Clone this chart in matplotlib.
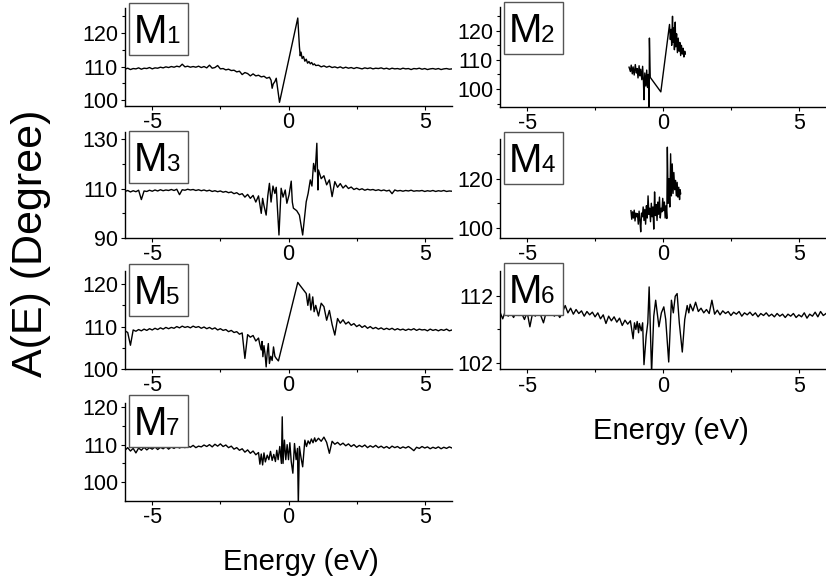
import matplotlib
matplotlib.use('Agg')
import matplotlib.pyplot as plt
from matplotlib.patches import Rectangle
from matplotlib.ticker import FixedLocator

plt.rcParams['font.family'] = ['Liberation Sans', 'DejaVu Sans']
plt.rcParams['axes.unicode_minus'] = False

W, H = 826, 584

# ---------------- data ----------------
E_left = [-6.0, -5.9, -5.8, -5.7, -5.6, -5.5, -5.4, -5.3, -5.2, -5.1,
          -5.0, -4.9, -4.8, -4.7, -4.6, -4.5, -4.4, -4.3, -4.2, -4.1,
          -4.0, -3.9, -3.8, -3.7, -3.6, -3.5, -3.4, -3.3, -3.2, -3.1,
          -3.0, -2.9, -2.8, -2.7, -2.6, -2.5, -2.4, -2.3, -2.2, -2.1,
          -2.0, -1.9, -1.8, -1.7, -1.6, -1.5, -1.4, -1.3, -1.2, -1.1]
E_right = [1.1, 1.2, 1.3, 1.4, 1.5, 1.6, 1.7, 1.8, 1.9, 2.0,
           2.1, 2.2, 2.3, 2.4, 2.5, 2.6, 2.7, 2.8, 2.9, 3.0,
           3.1, 3.2, 3.3, 3.4, 3.5, 3.6, 3.7, 3.8, 3.9, 4.0,
           4.1, 4.2, 4.3, 4.4, 4.5, 4.6, 4.7, 4.8, 4.9, 5.0,
           5.1, 5.2, 5.3, 5.4, 5.5, 5.6, 5.7, 5.8, 5.9, 6.0]

# M1
M1_left = [109.2, 109.5, 109.1, 109.4, 109.3, 109.6, 109.2, 109.5, 109.4, 109.7,
           109.3, 109.6, 109.5, 109.8, 109.6, 109.9, 109.7, 110.0, 109.8, 110.1,
           109.9, 110.7, 109.9, 110.1, 109.8, 110.0, 109.8, 110.1, 109.7, 110.0,
           109.6, 110.4, 109.5, 109.7, 110.3, 109.3, 109.4, 109.0, 109.2, 108.8,
           108.9, 108.4, 108.6, 107.6, 108.2, 107.9, 107.2, 107.8, 107.2, 107.4]
M1_mid_E = [-1.0, -0.9, -0.8, -0.7, -0.64, -0.6, -0.56, -0.5, -0.45, -0.33, 0.34, 0.40, 0.43,
            0.46, 0.5, 0.55, 0.6, 0.65, 0.7, 0.75, 0.8, 0.85, 0.9, 0.95, 1.0]
M1_mid_A = [106.9, 107.1, 106.5, 106.8, 105.9, 103.5, 104.8, 105.5, 106.5, 99.3, 124.5, 116.0, 113.2,
            114.3, 112.4, 113.0, 111.6, 112.2, 111.0, 111.5, 110.8, 111.2, 110.5, 110.8, 110.3]
M1_right = [110.4, 109.9, 110.2, 109.8, 110.1, 109.7, 109.9, 109.6, 109.9, 109.5,
            109.8, 109.5, 109.7, 109.4, 109.7, 109.5, 109.3, 109.6, 109.4, 109.6,
            109.3, 109.5, 109.4, 109.6, 109.3, 109.5, 109.2, 109.5, 109.3, 109.4,
            109.2, 109.5, 109.3, 109.4, 109.1, 109.4, 109.3, 109.5, 109.2, 109.4,
            109.1, 109.3, 109.4, 109.2, 109.4, 109.1, 109.3, 109.4, 109.2, 109.3]

# M2
M2_E = [-1.25, -1.2, -1.17, -1.13, -1.1, -1.06, -1.02, -0.98, -0.95, -0.92, -0.88, -0.85,
        -0.82, -0.78, -0.75, -0.72, -0.7, -0.67, -0.63, -0.6, -0.57, -0.54, -0.51, -0.5,
        -0.47, -0.08, 0.24, 0.27, 0.3, 0.32, 0.35, 0.37, 0.4, 0.42, 0.45, 0.47, 0.5, 0.53,
        0.56, 0.59, 0.62, 0.65, 0.68, 0.71, 0.74, 0.77, 0.8, 0.82]
M2_A = [107.5, 106.0, 108.2, 105.2, 107.6, 104.8, 108.4, 105.5, 107.0, 103.8, 108.0, 104.5,
        106.8, 103.2, 107.8, 102.5, 96.3, 105.5, 101.0, 106.5, 100.5, 105.0, 93.0, 117.5,
        104.0, 99.0, 122.2, 117.0, 120.5, 115.0, 125.0, 116.0, 121.0, 113.5, 123.0, 114.5, 119.0, 112.5,
        117.5, 113.0, 116.0, 111.5, 115.0, 112.0, 114.0, 111.0, 113.0, 112.0]

# M3
M3_left = [108.8, 109.2, 108.6, 109.1, 108.7, 109.3, 105.5, 109.0, 108.8, 109.3,
           108.9, 109.4, 109.0, 109.5, 109.1, 109.4, 109.2, 109.6, 109.2, 109.7,
           107.5, 109.5, 109.3, 109.7, 109.4, 109.6, 109.2, 109.5, 109.1, 109.4,
           109.0, 109.3, 108.8, 109.1, 108.7, 109.0, 108.5, 108.8, 108.3, 108.6,
           107.9, 108.3, 107.5, 107.9, 106.5, 107.6, 106.0, 107.2, 104.5, 107.0]
M3_mid_E = [-1.0, -0.95, -0.9, -0.82, -0.76, -0.7, -0.64, -0.57, -0.5, -0.45, -0.35, -0.27,
            -0.2, -0.16, -0.12, -0.06, 0.02, 0.1, 0.14, 0.18, 0.3, 0.4, 0.52, 0.65, 0.72,
            0.8, 0.86, 0.92, 0.98, 1.04, 1.08]
M3_mid_A = [99.9, 106.0, 103.0, 99.2, 107.0, 112.1, 104.5, 111.0, 108.0, 110.5, 91.1, 110.1,
            106.5, 108.0, 109.4, 104.0, 107.4, 113.0, 104.5, 102.0, 101.0, 99.2, 91.1, 104.6, 108.0,
            113.5, 111.0, 120.2, 116.8, 128.4, 109.4]
M3_right = [117.5, 114.0, 115.2, 111.5, 113.5, 106.7, 112.8, 110.5, 112.0, 110.2,
            111.3, 110.0, 110.6, 109.6, 110.1, 109.5, 109.9, 109.3, 109.7, 109.4,
            109.6, 109.2, 109.5, 109.1, 109.4, 109.0, 109.3, 107.9, 109.4, 109.0,
            109.2, 108.9, 109.2, 109.0, 109.3, 108.9, 109.1, 109.0, 109.2, 108.8,
            109.1, 108.9, 109.2, 108.8, 109.1, 108.9, 109.2, 108.8, 109.0, 108.9]

# M4
M4_E = [-1.18, -1.15, -1.12, -1.09, -1.06, -1.03, -1.0, -0.97, -0.94, -0.91, -0.88, -0.85,
        -0.82, -0.79, -0.76, -0.73, -0.7, -0.67, -0.64, -0.61, -0.58, -0.55, -0.52, -0.49,
        -0.46, -0.43, -0.4, -0.37, -0.34, -0.31, -0.28, -0.25, -0.22, -0.19, -0.16, -0.13,
        -0.1, -0.07, -0.04, -0.01, 0.02, 0.05, 0.08, 0.11, 0.14, 0.16, 0.19, 0.22, 0.25,
        0.28, 0.31, 0.34, 0.37, 0.4, 0.43, 0.46, 0.49, 0.52, 0.55, 0.58, 0.61, 0.63, 0.65]
M4_A = [107.0, 103.5, 106.5, 104.0, 107.2, 102.8, 106.0, 104.5, 105.8, 101.5,
        106.8, 103.0, 98.4, 106.0, 104.5, 108.5, 103.0, 107.5, 101.5, 109.0,
        104.0, 113.0, 105.5, 108.0, 102.5, 110.0, 104.5, 108.5, 99.5, 114.6,
        105.0, 109.5, 103.0, 110.5, 105.5, 112.5, 104.0, 108.0, 106.5, 112.0,
        107.0, 110.5, 104.0, 109.0, 103.8, 132.8, 110.0, 120.0, 108.5, 130.1,
        113.0, 126.0, 114.0, 122.5, 115.5, 119.3, 113.0, 118.5, 112.5, 116.5,
        111.5, 115.5, 113.9]

# M5
M5_left = [109.0, 108.6, 105.6, 109.2, 108.9, 109.3, 109.0, 109.4, 109.1, 109.5,
           109.2, 109.6, 109.3, 109.7, 109.4, 109.8, 109.5, 109.8, 109.6, 110.0,
           109.7, 110.1, 109.8, 110.0, 109.7, 110.1, 109.8, 110.0, 109.6, 109.9,
           109.5, 109.8, 109.4, 109.7, 109.2, 109.5, 109.1, 109.3, 108.8, 109.1,
           108.6, 108.8, 108.2, 108.5, 102.5, 108.1, 107.5, 107.9, 106.6, 107.3]
M5_mid_E = [-1.06, -1.0, -0.97, -0.94, -0.9, -0.86, -0.82, -0.78, -0.74, -0.7, -0.65, -0.6,
            -0.55, -0.5, -0.45, -0.37, 0.34, 0.65, 0.71, 0.77, 0.82, 0.89, 0.94, 1.0]
M5_mid_A = [106.0, 104.5, 106.5, 102.9, 105.5, 103.5, 100.5, 104.0, 106.0, 101.3, 103.0, 102.0,
            105.2, 103.0, 102.5, 101.9, 120.4, 117.8, 115.0, 117.7, 113.9, 117.0, 113.5, 115.0]
M5_right = [112.5, 115.5, 114.7, 111.5, 113.8, 110.5, 108.0, 111.9, 110.8, 111.6,
            110.6, 111.1, 110.3, 110.7, 110.0, 110.4, 109.8, 110.2, 109.6, 110.0,
            109.5, 109.8, 109.4, 109.7, 109.3, 109.6, 109.3, 109.6, 109.2, 109.5,
            109.2, 109.4, 109.1, 109.4, 109.2, 109.5, 109.1, 109.4, 109.2, 109.3,
            109.0, 109.4, 109.1, 109.3, 109.0, 109.3, 109.1, 109.4, 109.0, 109.2]

# M6
M6_left = [109.6, 108.6, 109.8, 109.0, 109.5, 108.8, 109.7, 109.1, 109.4, 108.5,
           109.6, 107.4, 109.5, 109.0, 109.7, 109.1, 108.0, 109.6, 109.2, 109.8,
           109.0, 109.5, 108.8, 109.6, 110.6, 109.5, 110.2, 109.3, 110.0, 109.4,
           109.8, 109.0, 109.7, 109.2, 109.6, 108.9, 109.5, 108.6, 109.2, 107.9,
           109.0, 108.3, 108.9, 108.1, 108.7, 107.6, 108.4, 107.8, 108.3, 105.6]
M6_mid_E = [-1.05, -1.0, -0.95, -0.9, -0.87, -0.8, -0.75, -0.7, -0.62, -0.56, -0.51, -0.42,
            -0.34, -0.27, -0.15, -0.06, 0.03, 0.1, 0.21, 0.31, 0.38, 0.45, 0.52, 0.6, 0.71,
            0.8, 0.89, 0.95, 1.0]
M6_mid_A = [108.0, 107.0, 108.2, 106.5, 107.9, 106.8, 108.0, 101.7, 106.0, 108.0, 113.4, 100.5,
            109.0, 111.4, 107.4, 109.5, 110.4, 108.5, 102.1, 111.4, 109.5, 112.0, 112.4, 108.0, 103.6,
            108.5, 110.6, 109.5, 110.8]
M6_right = [109.8, 111.1, 109.7, 110.2, 109.5, 110.0, 109.4, 111.4, 109.3, 109.9,
            109.2, 109.8, 109.4, 109.7, 109.1, 109.6, 109.3, 109.7, 109.0, 109.5,
            109.2, 109.6, 109.1, 109.5, 108.9, 109.4, 109.1, 109.5, 109.0, 109.3,
            108.9, 109.4, 109.0, 109.3, 108.8, 109.3, 109.0, 109.4, 108.8, 109.2,
            108.9, 109.5, 108.7, 109.3, 109.0, 109.6, 108.9, 109.7, 109.1, 109.4]

# M7
M7_left = [108.5, 109.2, 108.3, 109.0, 107.8, 109.1, 108.5, 109.3, 108.6, 109.2,
           108.8, 109.4, 108.7, 109.3, 108.9, 109.5, 108.8, 109.4, 109.0, 109.6,
           109.1, 109.5, 109.2, 109.7, 109.3, 109.8, 109.2, 109.6, 109.4, 109.9,
           109.5, 110.0, 109.4, 110.1, 109.6, 110.2, 109.5, 109.9, 109.2, 109.6,
           108.8, 109.2, 108.5, 108.9, 108.0, 108.6, 107.7, 108.3, 107.3, 107.9]
M7_mid_E = [-1.05, -1.0, -0.95, -0.9, -0.85, -0.78, -0.72, -0.66, -0.6, -0.54, -0.48, -0.43,
            -0.38, -0.32, -0.26, -0.23, -0.2, -0.15, -0.1, -0.05, 0.0, 0.05, 0.1, 0.16, 0.22,
            0.28, 0.33, 0.36, 0.4, 0.46, 0.52, 0.6, 0.66, 0.72, 0.78, 0.84, 0.9, 0.96, 1.0]
M7_mid_A = [104.8, 107.5, 104.6, 107.8, 105.4, 107.2, 106.0, 108.2, 105.8, 107.4, 105.5, 108.5,
            106.0, 109.5, 105.0, 117.4, 105.0, 111.2, 106.0, 110.0, 106.0, 110.5, 105.5, 102.4, 110.3,
            106.0, 109.0, 94.0, 109.5, 106.5, 104.1, 111.2, 109.5, 111.0, 110.2, 111.5, 110.5, 111.8, 110.8]
M7_right = [111.7, 110.9, 112.0, 110.6, 107.7, 110.9, 110.1, 110.6, 109.9, 110.4,
            109.7, 110.2, 109.5, 110.0, 109.3, 109.8, 109.4, 109.9, 109.2, 109.7,
            109.3, 109.8, 109.2, 109.6, 109.1, 109.5, 109.0, 109.6, 109.2, 109.5,
            109.0, 109.4, 109.1, 109.5, 109.0, 108.4, 109.3, 109.0, 109.5, 109.1,
            109.4, 108.9, 109.3, 109.0, 109.4, 108.9, 109.3, 109.0, 109.4, 109.1]

labels = ['1', '2', '3', '4', '5', '6', '7']
x_ticks = [-5, 0, 5]

series = [
    (E_left + M1_mid_E + E_right, M1_left + M1_mid_A + M1_right),
    (M2_E, M2_A),
    (E_left + M3_mid_E + E_right, M3_left + M3_mid_A + M3_right),
    (M4_E, M4_A),
    (E_left + M5_mid_E + E_right, M5_left + M5_mid_A + M5_right),
    (E_left + M6_mid_E + E_right, M6_left + M6_mid_A + M6_right),
    (E_left + M7_mid_E + E_right, M7_left + M7_mid_A + M7_right),
]

# ---------------- layout (pixels) ----------------
# (left, top, right, bottom), ylim, major ticks, minor ticks, box top
layout = [
    ((125, 8, 452, 106), (98.2, 127.5), [100, 110, 120], [105, 115, 125], 3),
    ((500, 6.7, 826, 107), (93.8, 128.3), [100, 110, 120], [95, 105, 115, 125], 2.3),
    ((125, 131.7, 452, 237.7), (90, 133.1), [90, 110, 130], [100, 120], 131),
    ((500, 139.3, 826, 237.7), (96, 136), [100, 120], [110, 130], 132.3),
    ((125, 271, 452, 369), (100, 123.1), [100, 110, 120], [105, 115], 264),
    ((500, 271, 826, 369.3), (101, 115.8), [102, 112], [107], 263.3),
    ((125, 403.3, 452, 501), (95, 121), [100, 110, 120], [105, 115], 395),
]

fig = plt.figure(figsize=(W / 100, H / 100), dpi=100)

for (E, A), lab, (box, ylim, ymaj, ymin, btop) in zip(series, labels, layout):
    l, t, r, b = box
    ax = fig.add_axes([l / W, 1 - b / H, (r - l) / W, (b - t) / H])
    ax.plot(E, A, color='black', lw=1.0)
    ax.set_xlim(-6, 6)
    ax.set_ylim(*ylim)
    for s in ('top', 'right'):
        ax.spines[s].set_visible(False)
    for s in ('left', 'bottom'):
        ax.spines[s].set_linewidth(1.0)
    ax.xaxis.set_major_locator(FixedLocator(x_ticks))
    ax.xaxis.set_minor_locator(FixedLocator([-2.5, 2.5]))
    ax.yaxis.set_major_locator(FixedLocator(ymaj))
    ax.yaxis.set_minor_locator(FixedLocator(ymin))
    ax.tick_params(which='both', direction='out', width=0.8, labelsize=15.5)
    ax.tick_params(which='major', length=3)
    ax.tick_params(which='minor', length=2)
    ax.tick_params(axis='x', pad=1.5)
    ax.tick_params(axis='y', pad=2)
    ax.patch.set_alpha(0)

    # label box
    bx = l + 4
    fig.add_artist(Rectangle((bx / W, 1 - (btop + 52) / H), 59 / W, 52 / H,
                             transform=fig.transFigure, facecolor='white',
                             edgecolor='#555555', lw=1.0, zorder=5))
    fig.text((bx + 4.5) / W, 1 - (btop + 39.7) / H, 'M', fontsize=29,
             ha='left', va='baseline', zorder=6)
    fig.text((bx + 37) / W, 1 - (btop + 39.7) / H, lab, fontsize=17.5,
             ha='left', va='baseline', zorder=6)

fig.text(301 / W, 1 - 570 / H, 'Energy (eV)', fontsize=21, ha='center', va='baseline')
fig.text(671 / W, 1 - 439 / H, 'Energy (eV)', fontsize=21, ha='center', va='baseline')
fig.text(31 / W, 1 - 243.5 / H, 'A(E) (Degree)', fontsize=31, rotation=90,
         ha='center', va='center')

fig.savefig('out.png', dpi=100)
